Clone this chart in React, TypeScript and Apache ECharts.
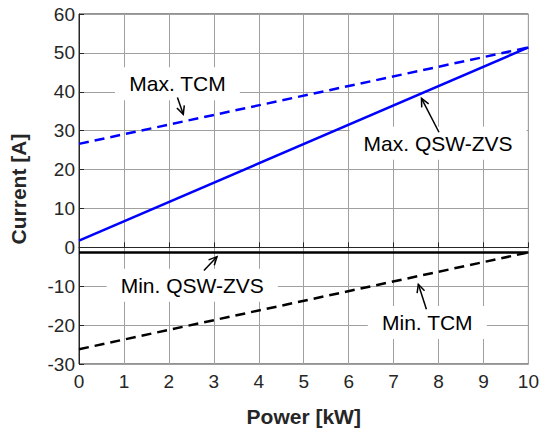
import React, { useEffect, useRef } from "react";
import * as echarts from "echarts";

const xRange = [0, 10];
const maxQSW = [1.7, 51.4];
const maxTCM = [26.6, 51.4];
const minQSW = [-1.3, -1.3];
const minTCM = [-26.2, -1.3];

const annotations = [
  { text: "Max. TCM", at: [2.19, 41.3], from: [2.19, 38.5], to: [2.32, 34.2] },
  { text: "Max. QSW-ZVS", at: [7.99, 26.0], from: [8.01, 29.6], to: [7.62, 38.3] },
  { text: "Min. QSW-ZVS", at: [2.52, -10.55], from: [2.78, -5.96], to: [3.07, -2.4] },
  { text: "Min. TCM", at: [7.75, -20.1], from: [7.73, -15.9], to: [7.55, -9.5] },
];

const pair = (ys: number[]) => xRange.map((x, i) => [x, ys[i]]);

export default function App() {
  const ref = useRef<HTMLDivElement>(null);
  useEffect(() => {
    const chart = echarts.init(ref.current!, null, { renderer: "svg" });
    const font = "Liberation Sans, Arial, sans-serif";
    chart.setOption({
      animation: false,
      backgroundColor: "#fff",
      grid: {
        left: 77, right: 12, top: 14, bottom: 66,
        show: true, borderColor: "#262626", borderWidth: 1, backgroundColor: "transparent",
      },
      xAxis: {
        type: "value", min: 0, max: 10, interval: 1,
        name: "Power [kW]", nameLocation: "middle", nameGap: 42,
        nameTextStyle: { fontFamily: font, fontSize: 21, fontWeight: "bold", color: "#262626" },
        axisLine: { show: true, lineStyle: { color: "#262626", width: 1 } },
        axisTick: { show: true, inside: true, length: 5, lineStyle: { color: "#262626" } },
        axisLabel: { fontFamily: font, fontSize: 19, color: "#262626", margin: 8 },
        splitLine: { show: true, lineStyle: { color: "#a0a0a0", width: 1 } },
      },
      yAxis: {
        type: "value", min: -30, max: 60, interval: 10,
        name: "Current [A]", nameLocation: "middle", nameGap: 50,
        nameTextStyle: { fontFamily: font, fontSize: 21, fontWeight: "bold", color: "#262626" },
        axisLine: { show: true, lineStyle: { color: "#262626", width: 1 } },
        axisTick: { show: true, inside: true, length: 5, lineStyle: { color: "#262626" } },
        axisLabel: { fontFamily: font, fontSize: 19, color: "#262626", margin: 4 },
        splitLine: { show: true, lineStyle: { color: "#a0a0a0", width: 1 } },
      },
      series: [
        { name: "Max. QSW-ZVS", type: "line", data: pair(maxQSW), showSymbol: false, lineStyle: { color: "#0000ff", width: 2.5 }, z: 3 },
        { name: "Max. TCM", type: "line", data: pair(maxTCM), showSymbol: false, lineStyle: { color: "#0000ff", width: 2.5, type: [10, 6] }, z: 3 },
        { name: "Min. QSW-ZVS", type: "line", data: pair(minQSW), showSymbol: false, lineStyle: { color: "#000000", width: 2.5 }, z: 3 },
        { name: "Min. TCM", type: "line", data: pair(minTCM), showSymbol: false, lineStyle: { color: "#000000", width: 2.5, type: [10, 6] }, z: 3 },
      ],
    });

    const elements: any[] = [];
    annotations.forEach((a) => {
      const c = chart.convertToPixel({ gridIndex: 0 }, a.at) as number[];
      const p0 = chart.convertToPixel({ gridIndex: 0 }, a.from) as number[];
      const p1 = chart.convertToPixel({ gridIndex: 0 }, a.to) as number[];
      elements.push({
        type: "text", x: c[0], y: c[1] - 3, z: 10,
        style: {
          text: a.text, fontFamily: font, fontSize: 21, fill: "#000",
          align: "center", verticalAlign: "middle",
          backgroundColor: "#fff", padding: [8, 14, 4, 14], lineHeight: 21,
        },
      });
      const ang = Math.atan2(p1[1] - p0[1], p1[0] - p0[0]);
      const L = 9, h = 0.45;
      const a1 = [p1[0] - L * Math.cos(ang - h), p1[1] - L * Math.sin(ang - h)];
      const a2 = [p1[0] - L * Math.cos(ang + h), p1[1] - L * Math.sin(ang + h)];
      elements.push({ type: "line", z: 11, shape: { x1: p0[0], y1: p0[1], x2: p1[0], y2: p1[1] }, style: { stroke: "#000", lineWidth: 1.5 } });
      elements.push({ type: "polyline", z: 11, shape: { points: [a1, p1, a2] }, style: { stroke: "#000", lineWidth: 1.5, fill: null } });
    });
    chart.setOption({ graphic: elements });
    return () => chart.dispose();
  }, []);
  return <div ref={ref} style={{ position: "fixed", left: 0, top: 0, width: 542, height: 432 }} />;
}
